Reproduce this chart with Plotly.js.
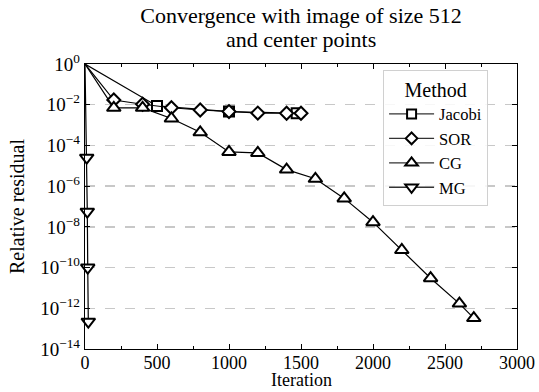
<!DOCTYPE html>
<html>
<head>
<meta charset="utf-8">
<script src="https://cdn.plot.ly/plotly-3.0.1.min.js"></script>
<style>html,body{margin:0;padding:0;background:#fff;}#chart{width:539px;height:392px;}</style>
</head>
<body>
<div id="chart"></div>
<script>
// Data
const jacobiIter = [0, 500, 1000, 1470];
const jacobiRes  = [1, 8.7e-3, 4.6e-3, 3.8e-3];
const sorIter = [0, 200, 400, 600, 800, 1000, 1200, 1400, 1500];
const sorRes  = [1, 1.7e-2, 1.05e-2, 7.1e-3, 5.5e-3, 4.6e-3, 3.9e-3, 3.8e-3, 3.8e-3];
const cgIter = [0, 200, 400, 600, 800, 1000, 1200, 1400, 1600, 1800, 2000, 2200, 2400, 2600, 2700];
const cgRes  = [1, 7e-3, 7e-3, 2.1e-3, 4.4e-4, 4.8e-5, 4.3e-5, 6.5e-6, 2.3e-6, 2.5e-7, 1.7e-8, 7.3e-10, 3e-11, 1.7e-12, 3.3e-13];
const mgIter = [0, 12, 16, 19, 23];
const mgRes  = [1, 2.5e-5, 5.6e-8, 1e-10, 2.2e-13];

const methodNames = ["Jacobi", "SOR", "CG", "MG"];
const titleLines = ["Convergence with image of size 512", "and center points"];
const xTitle = "Iteration";
const yTitle = "Relative residual";
const yTickVals = [1e0, 1e-2, 1e-4, 1e-6, 1e-8, 1e-10, 1e-12, 1e-14];
const yTickText = ["10<sup>0</sup>", "10<sup>\u22122</sup>", "10<sup>\u22124</sup>", "10<sup>\u22126</sup>", "10<sup>\u22128</sup>", "10<sup>\u221210</sup>", "10<sup>\u221212</sup>", "10<sup>\u221214</sup>"];
const xTickVals = [0, 500, 1000, 1500, 2000, 2500, 3000];

const FONT = "Liberation Serif, Times New Roman, serif";
const series = [
  {name: methodNames[0], x: jacobiIter, y: jacobiRes, symbol: "square", size: 10},
  {name: methodNames[1], x: sorIter, y: sorRes, symbol: "diamond", size: 10},
  {name: methodNames[2], x: cgIter, y: cgRes, symbol: "triangle-up", size: 12},
  {name: methodNames[3], x: mgIter, y: mgRes, symbol: "triangle-down", size: 12}
];

const traces = [];
series.forEach(s => {
  traces.push({
    x: s.x, y: s.y, type: "scatter", mode: "lines+markers", showlegend: false, cliponaxis: false,
    line: {color: "#000", width: 1.2},
    marker: {symbol: s.symbol, size: s.x.map((v,i)=> i===0 ? 0 : s.size), opacity: 1, color: "#fff", line: {color: "#000", width: 2}}
  });
});
series.forEach(s => {
  traces.push({
    x: [null], y: [null], name: s.name, type: "scatter", mode: "lines+markers",
    line: {color: "#333", width: 1.4},
    marker: {symbol: s.symbol, size: s.size - 1, opacity: 1, color: "#fff", line: {color: "#000", width: 2}}
  });
});

const layout = {
  width: 539, height: 392,
  margin: {l: 85, r: 22, t: 64, b: 43},
  paper_bgcolor: "#fff", plot_bgcolor: "#fff",
  font: {family: FONT, size: 19, color: "#000"},
  title: {text: titleLines[0], font: {family: FONT, size: 22, color: "#000"},
          xref: "paper", x: 0.5, xanchor: "center", yref: "container", y: 1 - 15/392, yanchor: "middle"},
  annotations: [
    {text: titleLines[1], font: {family: FONT, size: 22, color: "#000"}, showarrow: false,
     xref: "paper", x: 0.5, xanchor: "center", yref: "paper", y: 1 + (64 - 40) / 285, yanchor: "middle"},
    {text: xTitle, font: {family: FONT, size: 18, color: "#000"}, showarrow: false, borderpad: 0,
     xref: "paper", x: 0.5, xanchor: "center", yref: "paper", y: -(380 - 349) / 285, yanchor: "middle"}
  ],
  xaxis: {
    range: [0, 3000], tickvals: xTickVals, ticks: "inside", ticklen: 5, tickwidth: 1, tickcolor: "#000",
    showline: true, linecolor: "#000", linewidth: 1.2, mirror: "allticks", showgrid: false, zeroline: false,
    minor: {dtick: 250, tick0: 0, ticks: "inside", ticklen: 3, tickcolor: "#000", showgrid: false},
    tickfont: {family: FONT, size: 18}, ticklabelstandoff: -3
  },
  yaxis: {
    type: "log", range: [-14, 0], tickvals: yTickVals, ticktext: yTickText, ticks: "inside", ticklen: 5, tickcolor: "#000",
    showline: true, linecolor: "#000", linewidth: 1.2, mirror: "allticks",
    showgrid: true, gridcolor: "#c8c8c8", gridwidth: 1.3, griddash: "10px,10px", zeroline: false,
    title: {text: yTitle, font: {family: FONT, size: 20}, standoff: 10},
    tickfont: {family: FONT, size: 19}
  },
  legend: {
    x: 0.69, xanchor: "left", y: 0.98, yanchor: "top",
    bgcolor: "rgba(255,255,255,0.85)", bordercolor: "#d0d0d0", borderwidth: 1,
    font: {family: FONT, size: 16.5, color: "#000"},
    title: {text: "Method", side: "top center", font: {family: FONT, size: 20}},
    itemwidth: 45
  }
};

Plotly.newPlot("chart", traces, layout, {staticPlot: true, displayModeBar: false});
</script>
</body>
</html>
